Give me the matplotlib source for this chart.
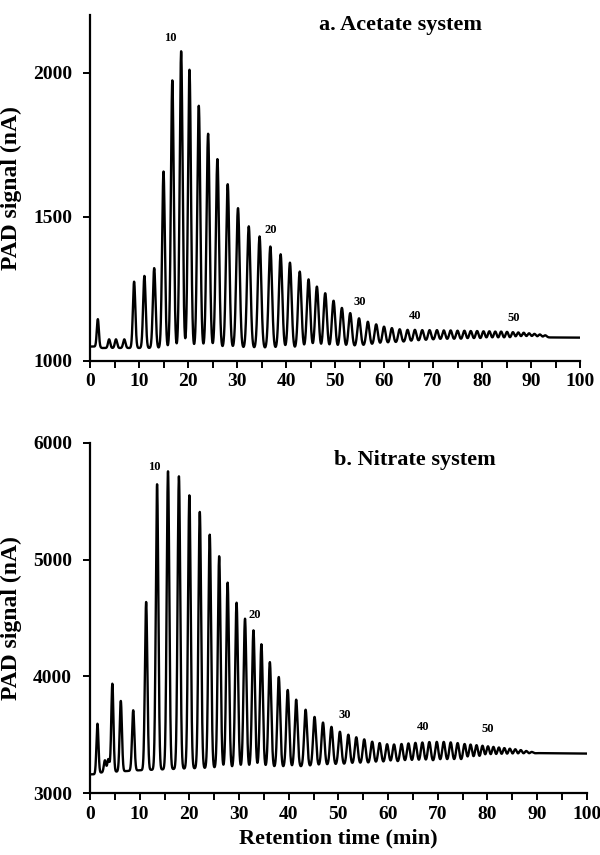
import numpy as np
import matplotlib.pyplot as plt

# panel a: acetate system, peak retention times (min) and peak tops (nA)
peak_t_a = [1.6, 3.9, 5.3, 7.0, 9.0, 11.1, 13.1, 15.0, 16.8, 18.6,
            20.3, 22.2, 24.1, 26.0, 28.1, 30.2, 32.4, 34.6, 36.8, 38.9,
            40.8, 42.8, 44.6, 46.3, 48.0, 49.7, 51.4, 53.1, 54.9, 56.7,
            58.4, 60.0, 61.6, 63.2, 64.8, 66.3, 67.8, 69.3, 70.8, 72.2,
            73.6, 75.0, 76.4, 77.7, 79.0, 80.3, 81.5, 82.7, 83.9, 85.1,
            86.3, 87.4, 88.5, 89.6, 90.7, 91.8, 92.9]
peak_h_a = [1145, 1075, 1075, 1075, 1275, 1295, 1322, 1657, 1973, 2074,
            2010, 1885, 1788, 1700, 1613, 1530, 1467, 1432, 1397, 1370,
            1341, 1310, 1283, 1258, 1235, 1209, 1184, 1166, 1148, 1136,
            1127, 1119, 1114, 1110, 1108, 1108, 1107, 1107, 1107, 1106,
            1106, 1105, 1105, 1104, 1104, 1103, 1103, 1102, 1102, 1101,
            1100, 1099, 1098, 1096, 1094, 1092, 1089]
base_t_a = [0, 1.4, 2.5, 10, 25, 45, 50, 60, 70, 85, 90, 100]
base_v_a = [1050, 1050, 1045, 1045, 1045, 1042, 1042, 1059, 1072, 1075, 1082, 1081]
sig_t_a = [0, 15, 30, 50, 70, 100]
sig_v_a = [0.2, 0.28, 0.34, 0.34, 0.3, 0.3]

# panel b: nitrate system
peak_t_b = [1.5, 3.0, 3.7, 4.5, 6.2, 8.7, 11.3, 13.5, 15.7, 17.9,
            20.0, 22.1, 24.1, 26.0, 27.7, 29.5, 31.2, 32.9, 34.5, 36.2,
            38.0, 39.8, 41.5, 43.4, 45.2, 46.9, 48.6, 50.3, 52.0, 53.6,
            55.2, 56.8, 58.3, 59.8, 61.2, 62.7, 64.1, 65.5, 66.9, 68.3,
            69.8, 71.2, 72.6, 74.0, 75.4, 76.6, 77.8, 79.0, 80.1, 81.2,
            82.3, 83.4, 84.5, 85.6, 86.7, 87.8, 88.9]
peak_h_b = [3594, 3280, 3290, 3937, 3789, 3709, 4637, 5646, 5757, 5714,
            5551, 5409, 5214, 5029, 4803, 4631, 4494, 4394, 4275, 4122,
            3994, 3883, 3800, 3714, 3652, 3604, 3567, 3525, 3500, 3478,
            3460, 3440, 3428, 3418, 3416, 3420, 3425, 3430, 3433, 3437,
            3438, 3438, 3434, 3428, 3420, 3415, 3410, 3405, 3400, 3395,
            3390, 3385, 3380, 3375, 3368, 3360, 3352]
base_t_b = [0, 1.3, 2.2, 10, 20, 40, 50, 60, 75, 85, 90, 100]
base_v_b = [3160, 3160, 3175, 3195, 3210, 3220, 3240, 3258, 3272, 3318, 3342, 3338]
sig_t_b = [0, 15, 30, 50, 70, 100]
sig_v_b = [0.2, 0.26, 0.28, 0.3, 0.3, 0.29]

# DP labels placed on the chromatograms
lab_a = ['10', '20', '30', '40', '50']
lab_a_t = [16.3, 36.9, 55.1, 66.3, 86.5]
lab_a_v = [2121, 1455, 1205, 1156, 1149]
lab_b = ['10', '20', '30', '40', '50']
lab_b_t = [13.0, 33.2, 51.3, 67.1, 80.0]
lab_b_v = [5790, 4525, 3668, 3568, 3546]

plt.rcParams['font.family'] = ['Liberation Serif', 'DejaVu Serif']
plt.rcParams['font.weight'] = 'bold'


def trace(peak_t, peak_h, base_t, base_v, sig_t, sig_v):
    t = np.linspace(0, 100, 6001)
    y = np.interp(t, base_t, base_v).astype(float)
    for pt, ph in zip(peak_t, peak_h):
        s = np.interp(pt, sig_t, sig_v)
        amp = ph - np.interp(pt, base_t, base_v)
        y += amp * np.exp(-0.5 * ((t - pt) / s) ** 2)
    return t, y


def style(ax, ylim, yticks):
    ax.set_xlim(0, 100)
    ax.set_ylim(*ylim)
    ax.set_yticks(yticks)
    ax.set_xticks(np.arange(0, 101, 10))
    ax.set_xticks(np.arange(0, 101, 5), minor=True)
    for s in ['top', 'right']:
        ax.spines[s].set_visible(False)
    for s in ['left', 'bottom']:
        ax.spines[s].set_linewidth(1.6)
    ax.tick_params(which='both', direction='out', length=5, width=1.4,
                   labelsize=14)
    ax.tick_params(axis='y', pad=8)
    ax.tick_params(axis='x', pad=4)
    for lbl in ax.get_xticklabels() + ax.get_yticklabels():
        lbl.set_fontweight('bold')
    ax.set_ylabel('PAD signal (nA)', fontsize=17, fontweight='bold', labelpad=8)


fig = plt.figure(figsize=(6, 8.55), dpi=100)
ax1 = fig.add_axes([0.15, 0.5778, 0.8167, 0.4047])
ax2 = fig.add_axes([0.15, 0.0725, 0.828, 0.4094])

t, y = trace(peak_t_a, peak_h_a, base_t_a, base_v_a, sig_t_a, sig_v_a)
ax1.plot(t, y, color='black', lw=1.7)
style(ax1, (1000, 2200), [1000, 1500, 2000])
ax1.text(0.633, 0.971, 'a. Acetate system', transform=ax1.transAxes,
         ha='center', va='center', fontsize=16, fontweight='bold')
for s, xt, yv in zip(lab_a, lab_a_t, lab_a_v):
    ax1.text(xt, yv, s, ha='center', va='center', fontsize=9, fontweight='bold')

t, y = trace(peak_t_b, peak_h_b, base_t_b, base_v_b, sig_t_b, sig_v_b)
ax2.plot(t, y, color='black', lw=1.7)
style(ax2, (3000, 6000), [3000, 4000, 5000, 6000])
ax2.text(0.654, 0.951, 'b. Nitrate system', transform=ax2.transAxes,
         ha='center', va='center', fontsize=16, fontweight='bold')
for s, xt, yv in zip(lab_b, lab_b_t, lab_b_v):
    ax2.text(xt, yv, s, ha='center', va='center', fontsize=9, fontweight='bold')
ax2.set_xlabel('Retention time (min)', fontsize=16, fontweight='bold', labelpad=4)

fig.savefig('out.png', dpi=100)
